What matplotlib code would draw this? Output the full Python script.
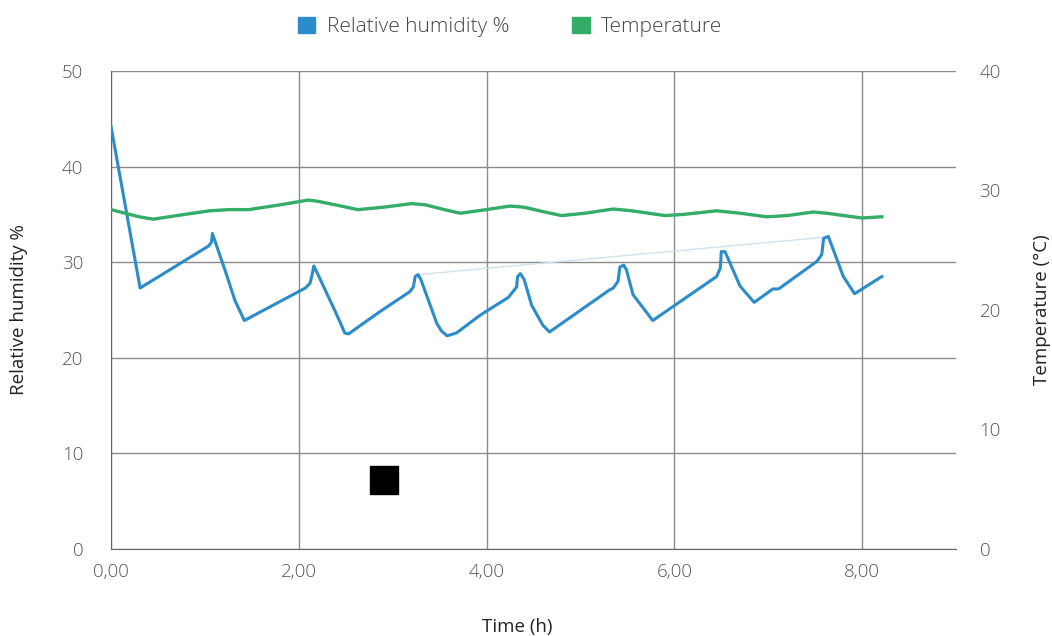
import matplotlib
matplotlib.use("Agg")
import matplotlib.pyplot as plt
from matplotlib.patches import Patch
from matplotlib.ticker import FuncFormatter

plt.rcParams['font.family'] = ['Open Sans', 'DejaVu Sans']
plt.rcParams['font.weight'] = 'light'

# Relative humidity (%) vs time (h)
rh_time = [0.00, 0.31, 1.04, 1.07, 1.08, 1.22, 1.32, 1.42, 2.07, 2.12, 2.14, 2.16, 2.20, 2.40, 2.49, 2.53,
           2.86, 3.18, 3.22, 3.24, 3.27, 3.30, 3.47, 3.52, 3.58, 3.68, 3.91, 3.97, 4.23, 4.32, 4.33, 4.36,
           4.40, 4.48, 4.60, 4.67, 5.31, 5.35, 5.40, 5.42, 5.46, 5.49, 5.56, 5.77, 6.45, 6.49, 6.50, 6.54,
           6.70, 6.85, 7.05, 7.11, 7.52, 7.57, 7.59, 7.64, 7.80, 7.92, 8.21]
rh_value = [44.2, 27.3, 31.7, 32.1, 33.0, 29.0, 26.0, 23.9, 27.3, 27.8, 28.6, 29.6, 28.8, 24.6, 22.6, 22.5,
            24.8, 26.9, 27.4, 28.5, 28.7, 28.2, 23.6, 22.8, 22.3, 22.6, 24.3, 24.7, 26.3, 27.4, 28.5, 28.8,
            28.2, 25.5, 23.4, 22.7, 27.1, 27.3, 28.0, 29.5, 29.7, 29.2, 26.6, 23.9, 28.5, 29.4, 31.1, 31.1,
            27.5, 25.8, 27.2, 27.2, 30.1, 30.8, 32.5, 32.7, 28.5, 26.7, 28.5]

# Faint connector line (light blue)
faint_time = [3.27, 7.59]
faint_value = [28.7, 32.6]

# Temperature (°C) vs time (h)
temp_time = [0.00, 0.15, 0.30, 0.45, 0.70, 1.05, 1.25, 1.47, 1.80, 2.10, 2.20, 2.45, 2.63, 2.90, 3.20,
             3.35, 3.55, 3.72, 4.00, 4.25, 4.40, 4.62, 4.80, 5.05, 5.35, 5.55, 5.90, 6.10, 6.45, 6.70,
             6.98, 7.20, 7.48, 7.62, 7.90, 8.00, 8.21]
temp_value = [28.4, 28.1, 27.8, 27.6, 27.9, 28.3, 28.4, 28.4, 28.8, 29.2, 29.1, 28.7, 28.4, 28.6, 28.9,
              28.8, 28.4, 28.1, 28.4, 28.7, 28.6, 28.2, 27.9, 28.1, 28.45, 28.3, 27.9, 28.0, 28.3, 28.1,
              27.8, 27.9, 28.2, 28.1, 27.8, 27.7, 27.8]

# Black square marker
square_time = [2.91]
square_value = [7.2]

x_ticks = [0, 2, 4, 6, 8]
left_ticks = [0, 10, 20, 30, 40, 50]
right_ticks = [0, 10, 20, 30, 40]

blue = '#2b8ccb'
green = '#34ad69'
grid_c = '#8a8a8a'
text_c = '#555555'

fig = plt.figure(figsize=(10.52, 6.36), dpi=100)
ax = fig.add_axes([111/1052, 1-549/636, (956-111)/1052, (549-71)/636])
ax2 = ax.twinx()

ax.set_xlim(0, 9)
ax.set_ylim(0, 50)
ax2.set_ylim(0, 40)

ax.set_xticks(x_ticks)
ax.set_yticks(left_ticks)
ax2.set_yticks(right_ticks)
ax.xaxis.set_major_formatter(FuncFormatter(lambda v, p: f"{v:.2f}".replace('.', ',')))

ax.grid(True, color=grid_c, linewidth=1)
ax.set_axisbelow(True)
for s in ['top', 'right']:
    ax.spines[s].set_visible(False)
for s in ['top', 'right', 'left', 'bottom']:
    ax2.spines[s].set_visible(False)
ax.spines['left'].set_color('#666666')
ax.spines['bottom'].set_color('#666666')

ax.tick_params(axis='y', length=0, labelsize=13.5, colors=text_c, pad=20)
ax.tick_params(axis='x', length=0, labelsize=13.5, colors=text_c, pad=10)
ax2.tick_params(axis='y', length=0, labelsize=13.5, colors=text_c, pad=17)

ax.plot(faint_time, faint_value, color='#cfe2f0', linewidth=1, zorder=2)
ax.plot(rh_time, rh_value, color=blue, linewidth=2.2, zorder=3, solid_joinstyle='round')
ax2.plot(temp_time, temp_value, color=green, linewidth=2.4, zorder=3, solid_joinstyle='round')
ax.plot(square_time, square_value, marker='s', markersize=20, color='black', linestyle='none', zorder=4)

lab_kw = dict(fontsize=13.5, color='#222222', fontweight='normal')
fig.text(19/1052, 1-310/636, 'Relative humidity %', rotation=90, ha='center', va='center', **lab_kw)
fig.text(1042/1052, 1-310/636, 'Temperature (°C)', rotation=90, ha='center', va='center', **lab_kw)
fig.text(517/1052, 1-627/636, 'Time (h)', ha='center', va='center', **lab_kw)

handles = [Patch(color=blue, label='Relative humidity %'), Patch(color=green, label='Temperature')]
fig.legend(handles=handles, loc='center', bbox_to_anchor=(510/1052, 1-27/636), ncol=2, frameon=False,
           fontsize=15, handlelength=0.85, handleheight=0.85, columnspacing=3.0, handletextpad=0.55,
           labelcolor='#444444')

fig.savefig('out.png', dpi=100)
